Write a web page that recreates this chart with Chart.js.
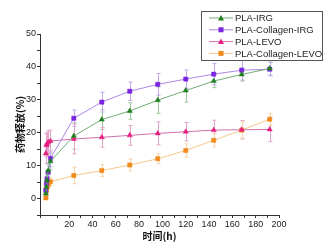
<!DOCTYPE html>
<html lang="zh">
<head>
  <meta charset="UTF-8" />
  <title>药物释放</title>
  <script src="https://cdn.jsdelivr.net/npm/chart.js"></script>
  <style>
    html, body { margin: 0; padding: 0; background: #fff; }
    #wrap { width: 332px; height: 250px; position: relative; }
  </style>
</head>
<body>
  <div id="wrap"><canvas id="releaseChart" width="332" height="250"></canvas></div>

  <script>
    // Tiempos de muestreo (h)
    const hours = [0, 0.5, 1, 2, 4, 24, 48, 72, 96, 120, 144, 168, 192];

    const seriesNames = ["PLA-IRG", "PLA-Collagen-IRG", "PLA-LEVO", "PLA-Collagen-LEVO"];

    const plaIrg = [1.5, 3.5, 5.5, 8.5, 11.3, 19, 24, 26.6, 29.9, 32.8, 35.7, 37.7, 39.5];
    const plaIrgErr = [0.5, 1, 1.5, 2, 2.5, 4, 3, 2.5, 4, 3.5, 2, 2, 2];

    const colIrg = [2.5, 4.5, 6, 8, 12.2, 24.4, 29.3, 32.6, 34.7, 36.3, 37.8, 39, 39.3];
    const colIrgErr = [0.8, 1.2, 1.5, 2, 2.5, 2.5, 3, 2.8, 3.3, 2.8, 3.2, 3, 2];

    const plaLevo = [13.7, 16.2, 16.6, 17.1, 17.5, 18.1, 18.6, 19.2, 19.8, 20.3, 20.8, 20.9, 21];
    const plaLevoErr = [3, 3.5, 3.5, 3.5, 3.3, 4.5, 3, 3, 3.5, 2.8, 3, 2.8, 3.7];

    const colLevo = [0.2, 2.5, 3.5, 4.3, 5.1, 7, 8.5, 10.2, 12.1, 14.6, 17.7, 20.8, 24.1];
    const colLevoErr = [0.3, 0.8, 1, 1, 1.2, 2.5, 1.8, 1.8, 1.5, 2, 2, 2.5, 1.8];

    const xTicksMin = -5, xTicksMax = 200;
    const yTicksMin = -5, yTicksMax = 50;

    const markerColors = ["#1f7f1f", "#7a22e0", "#e81c80", "#f28a1c"];
    const lineColors = ["#74ad74", "#ad86e6", "#cf6fae", "#f3c98c"];
    const errColors = ["#9cc79c", "#c3a8ee", "#e6a3c9", "#f4d6a8"];
    const shapes = ["triangle", "rect", "triangle", "rect"];

    const valores = [plaIrg, colIrg, plaLevo, colLevo];
    const errores = [plaIrgErr, colIrgErr, plaLevoErr, colLevoErr];

    const datasets = seriesNames.map((name, i) => ({
      label: name,
      data: hours.map((h, k) => ({ x: h, y: valores[i][k] })),
      errs: errores[i],
      borderColor: lineColors[i],
      backgroundColor: markerColors[i],
      pointBackgroundColor: markerColors[i],
      pointBorderColor: markerColors[i],
      pointStyle: shapes[i],
      pointRadius: 3,
      pointBorderWidth: 0.5,
      borderWidth: 1,
      tension: 0,
      fill: false,
      errColor: errColors[i]
    }));

    // Barras de error
    const errorBars = {
      id: "errorBars",
      beforeDatasetsDraw(chart) {
        const { ctx, scales: { x, y } } = chart;
        ctx.save();
        chart.data.datasets.forEach(ds => {
          ctx.strokeStyle = ds.errColor;
          ctx.lineWidth = 1;
          ds.data.forEach((p, k) => {
            const e = ds.errs[k];
            const px = Math.round(x.getPixelForValue(p.x)) + 0.5;
            const top = y.getPixelForValue(p.y + e);
            const bot = y.getPixelForValue(p.y - e);
            ctx.beginPath();
            ctx.moveTo(px, top); ctx.lineTo(px, bot);
            ctx.moveTo(px - 2, top); ctx.lineTo(px + 2, top);
            ctx.moveTo(px - 2, bot); ctx.lineTo(px + 2, bot);
            ctx.stroke();
          });
        });
        ctx.restore();
      }
    };

    // Leyenda con recuadro
    const boxLegend = {
      id: "boxLegend",
      afterDraw(chart) {
        const ctx = chart.ctx;
        const bx = 201.5, by = 11.5, bw = 121, bh = 49;
        ctx.save();
        ctx.fillStyle = "#fff";
        ctx.fillRect(bx, by, bw, bh);
        ctx.strokeStyle = "#555";
        ctx.lineWidth = 1;
        ctx.strokeRect(bx, by, bw, bh);
        ctx.font = "9.5px 'Liberation Sans', Arial, sans-serif";
        ctx.textBaseline = "middle";
        chart.data.datasets.forEach((ds, i) => {
          const cy = by + 6.5 + i * 11.8;
          ctx.strokeStyle = ds.borderColor;
          ctx.beginPath();
          ctx.moveTo(209, cy); ctx.lineTo(233, cy);
          ctx.stroke();
          ctx.fillStyle = ds.pointBackgroundColor;
          ctx.beginPath();
          if (ds.pointStyle === "triangle") {
            ctx.moveTo(221, cy - 3); ctx.lineTo(224, cy + 2.5); ctx.lineTo(218, cy + 2.5);
            ctx.closePath(); ctx.fill();
          } else {
            ctx.fillRect(218.5, cy - 2.5, 5, 5);
          }
          ctx.fillStyle = "#222";
          ctx.fillText(ds.label, 235, cy + 0.5);
        });
        ctx.restore();
      }
    };

    const tickFont = { family: "'Liberation Sans', Arial, sans-serif", size: 9 };

    new Chart(document.getElementById("releaseChart"), {
      type: "line",
      data: { datasets },
      plugins: [errorBars, boxLegend],
      options: {
        responsive: false,
        animation: false,
        layout: { padding: { top: 34, right: 53, left: 0, bottom: 0 } },
        plugins: { legend: { display: false }, tooltip: { enabled: false } },
        scales: {
          x: {
            type: "linear",
            min: xTicksMin,
            max: xTicksMax,
            afterFit: s => { s.height = 35; },
            grid: { drawOnChartArea: false, drawTicks: true, tickLength: 3, color: "#333" },
            border: { display: true, color: "#333", width: 1 },
            ticks: {
              stepSize: 10,
              autoSkip: false,
              maxRotation: 0,
              padding: 1,
              color: "#222",
              font: tickFont,
              callback: v => (v % 20 === 0 ? v : "")
            },
            title: {
              display: true,
              text: "时间(h)",
              color: "#111",
              font: { family: "'Noto Sans CJK SC', sans-serif", size: 10, weight: "bold" },
              padding: { top: 0, bottom: 8 }
            }
          },
          y: {
            min: yTicksMin,
            max: yTicksMax,
            afterFit: s => { s.width = 40; },
            grid: { drawOnChartArea: false, drawTicks: true, tickLength: 3, color: "#333" },
            border: { display: true, color: "#333", width: 1 },
            ticks: {
              stepSize: 5,
              autoSkip: false,
              padding: 1,
              color: "#222",
              font: tickFont,
              callback: v => (v % 10 === 0 ? v : "")
            },
            title: {
              display: true,
              text: "药物释放(%)",
              color: "#111",
              font: { family: "'Noto Sans CJK SC', sans-serif", size: 10, weight: "bold" },
              padding: { top: 14, bottom: 0 }
            }
          }
        }
      }
    });
  </script>
</body>
</html>
